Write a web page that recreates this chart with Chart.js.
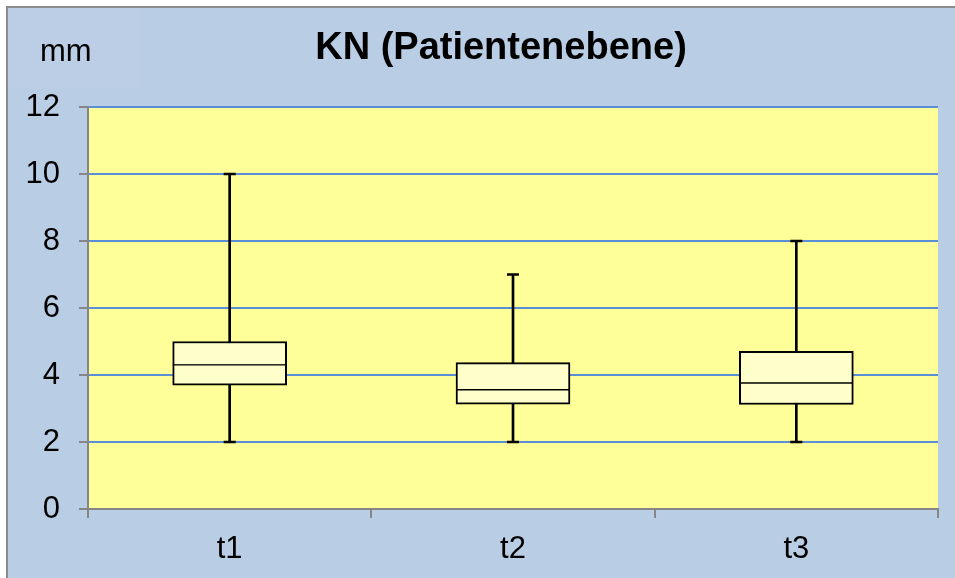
<!DOCTYPE html>
<html>
<head>
<meta charset="utf-8">
<script src="https://cdn.jsdelivr.net/npm/chart.js@4/dist/chart.umd.min.js"></script>
<style>
  html, body { margin: 0; padding: 0; background: #ffffff; overflow: hidden; }
  #wrap { position: absolute; left: 0; top: 0; width: 955px; height: 578px; }
</style>
</head>
<body>
<div id="wrap"><canvas id="boxChart" width="955" height="578"></canvas></div>
<script>
// box plot values
let labels = ['t1', 't2', 't3'];
let minVals = [2, 2, 2];
let q1Vals = [3.7, 3.13, 3.12];
let medianVals = [4.3, 3.56, 3.76];
let q3Vals = [5.0, 4.37, 4.71];
let maxVals = [10, 7, 8];
let yTicks = [0, 2, 4, 6, 8, 10, 12];

const titleText = 'KN (Patientenebene)';
const unitText = 'mm';
const fontFam = "'Liberation Sans', Arial, sans-serif";
const axisGray = '#868686';
const gridBlue = '#5a8fd5';

//Background, plot area and the texts above the plot
const backdrop = {
    id: 'backdrop',
    beforeDraw(chart) {
        const c = chart.ctx;
        const a = chart.chartArea;
        c.save();
        c.fillStyle = '#ffffff';
        c.fillRect(0, 0, chart.width, chart.height);
        c.fillStyle = '#b9cde5';
        c.fillRect(7, 7, chart.width - 7, chart.height - 7);
        c.fillStyle = '#bbcee6';
        c.fillRect(8, 8, 130, 80);
        c.strokeStyle = '#8c8c8c';
        c.lineWidth = 2;
        c.beginPath();
        c.moveTo(7, chart.height);
        c.lineTo(7, 7);
        c.lineTo(chart.width, 7);
        c.stroke();
        c.fillStyle = '#ffff99';
        c.fillRect(a.left, a.top, a.right - a.left, a.bottom - a.top);
        c.restore();
    },
    afterDraw(chart) {
        const c = chart.ctx;
        c.save();
        c.fillStyle = '#000000';
        c.textBaseline = 'alphabetic';
        c.font = 'bold 38px ' + fontFam;
        c.textAlign = 'center';
        c.fillText(titleText, 501, 59);
        c.font = '31px ' + fontFam;
        c.textAlign = 'left';
        c.fillText(unitText, 40, 61);
        c.restore();
    }
};

const boxBorder = 2;

let data = {
    labels: labels,
    datasets: [
        {
            type: 'bar',
            label: 'lower box',
            data: labels.map((l, i) => [q1Vals[i], medianVals[i]]),
            backgroundColor: '#ffffcc',
            borderColor: '#000000',
            borderWidth: { top: 1, bottom: boxBorder, left: boxBorder, right: boxBorder },
            borderSkipped: false,
            barThickness: 114,
            grouped: false,
            order: 0
        },
        {
            type: 'bar',
            label: 'upper box',
            data: labels.map((l, i) => [medianVals[i], q3Vals[i]]),
            backgroundColor: '#ffffcc',
            borderColor: '#000000',
            borderWidth: { top: boxBorder, bottom: 1, left: boxBorder, right: boxBorder },
            borderSkipped: false,
            barThickness: 114,
            grouped: false,
            order: 0
        },
        {
            type: 'bar',
            label: 'whisker',
            data: labels.map((l, i) => [minVals[i], maxVals[i]]),
            backgroundColor: '#000000',
            borderWidth: 0,
            barThickness: 2,
            grouped: false,
            order: 3
        },
        {
            type: 'line',
            label: 'max',
            data: maxVals,
            showLine: false,
            pointStyle: 'line',
            pointRadius: 6,
            pointBorderWidth: 2.5,
            borderColor: '#000000',
            order: 2
        },
        {
            type: 'line',
            label: 'min',
            data: minVals,
            showLine: false,
            pointStyle: 'line',
            pointRadius: 6,
            pointBorderWidth: 2.5,
            borderColor: '#000000',
            order: 2
        }
    ]
};

let options = {
    responsive: false,
    animation: false,
    layout: { padding: { top: 107, right: 17, left: 0, bottom: 0 } },
    plugins: {
        legend: { display: false },
        title: { display: false },
        tooltip: { enabled: false }
    },
    scales: {
        x: {
            type: 'category',
            offset: true,
            afterFit: (scale) => { scale.height = 69; },
            grid: {
                display: true,
                offset: true,
                drawOnChartArea: false,
                tickLength: 9,
                tickColor: axisGray,
                lineWidth: 2
            },
            border: { display: true, color: axisGray, width: 2 },
            ticks: {
                color: '#000000',
                padding: 13,
                font: { family: fontFam, size: 31 }
            }
        },
        y: {
            min: 0,
            max: 12,
            afterFit: (scale) => { scale.width = 88; },
            afterBuildTicks: (scale) => { scale.ticks = yTicks.map(v => ({ value: v })); },
            grid: {
                color: (ctx) => ctx.tick && ctx.tick.value === 0 ? axisGray : gridBlue,
                lineWidth: 2,
                tickLength: 9,
                tickColor: axisGray
            },
            border: { display: true, color: axisGray, width: 2 },
            ticks: {
                color: '#000000',
                padding: 19,
                font: { family: fontFam, size: 31 }
            }
        }
    }
};

let chart = new Chart(document.getElementById('boxChart').getContext('2d'), {
    type: 'bar',
    data: data,
    options: options,
    plugins: [backdrop]
});
</script>
</body>
</html>
